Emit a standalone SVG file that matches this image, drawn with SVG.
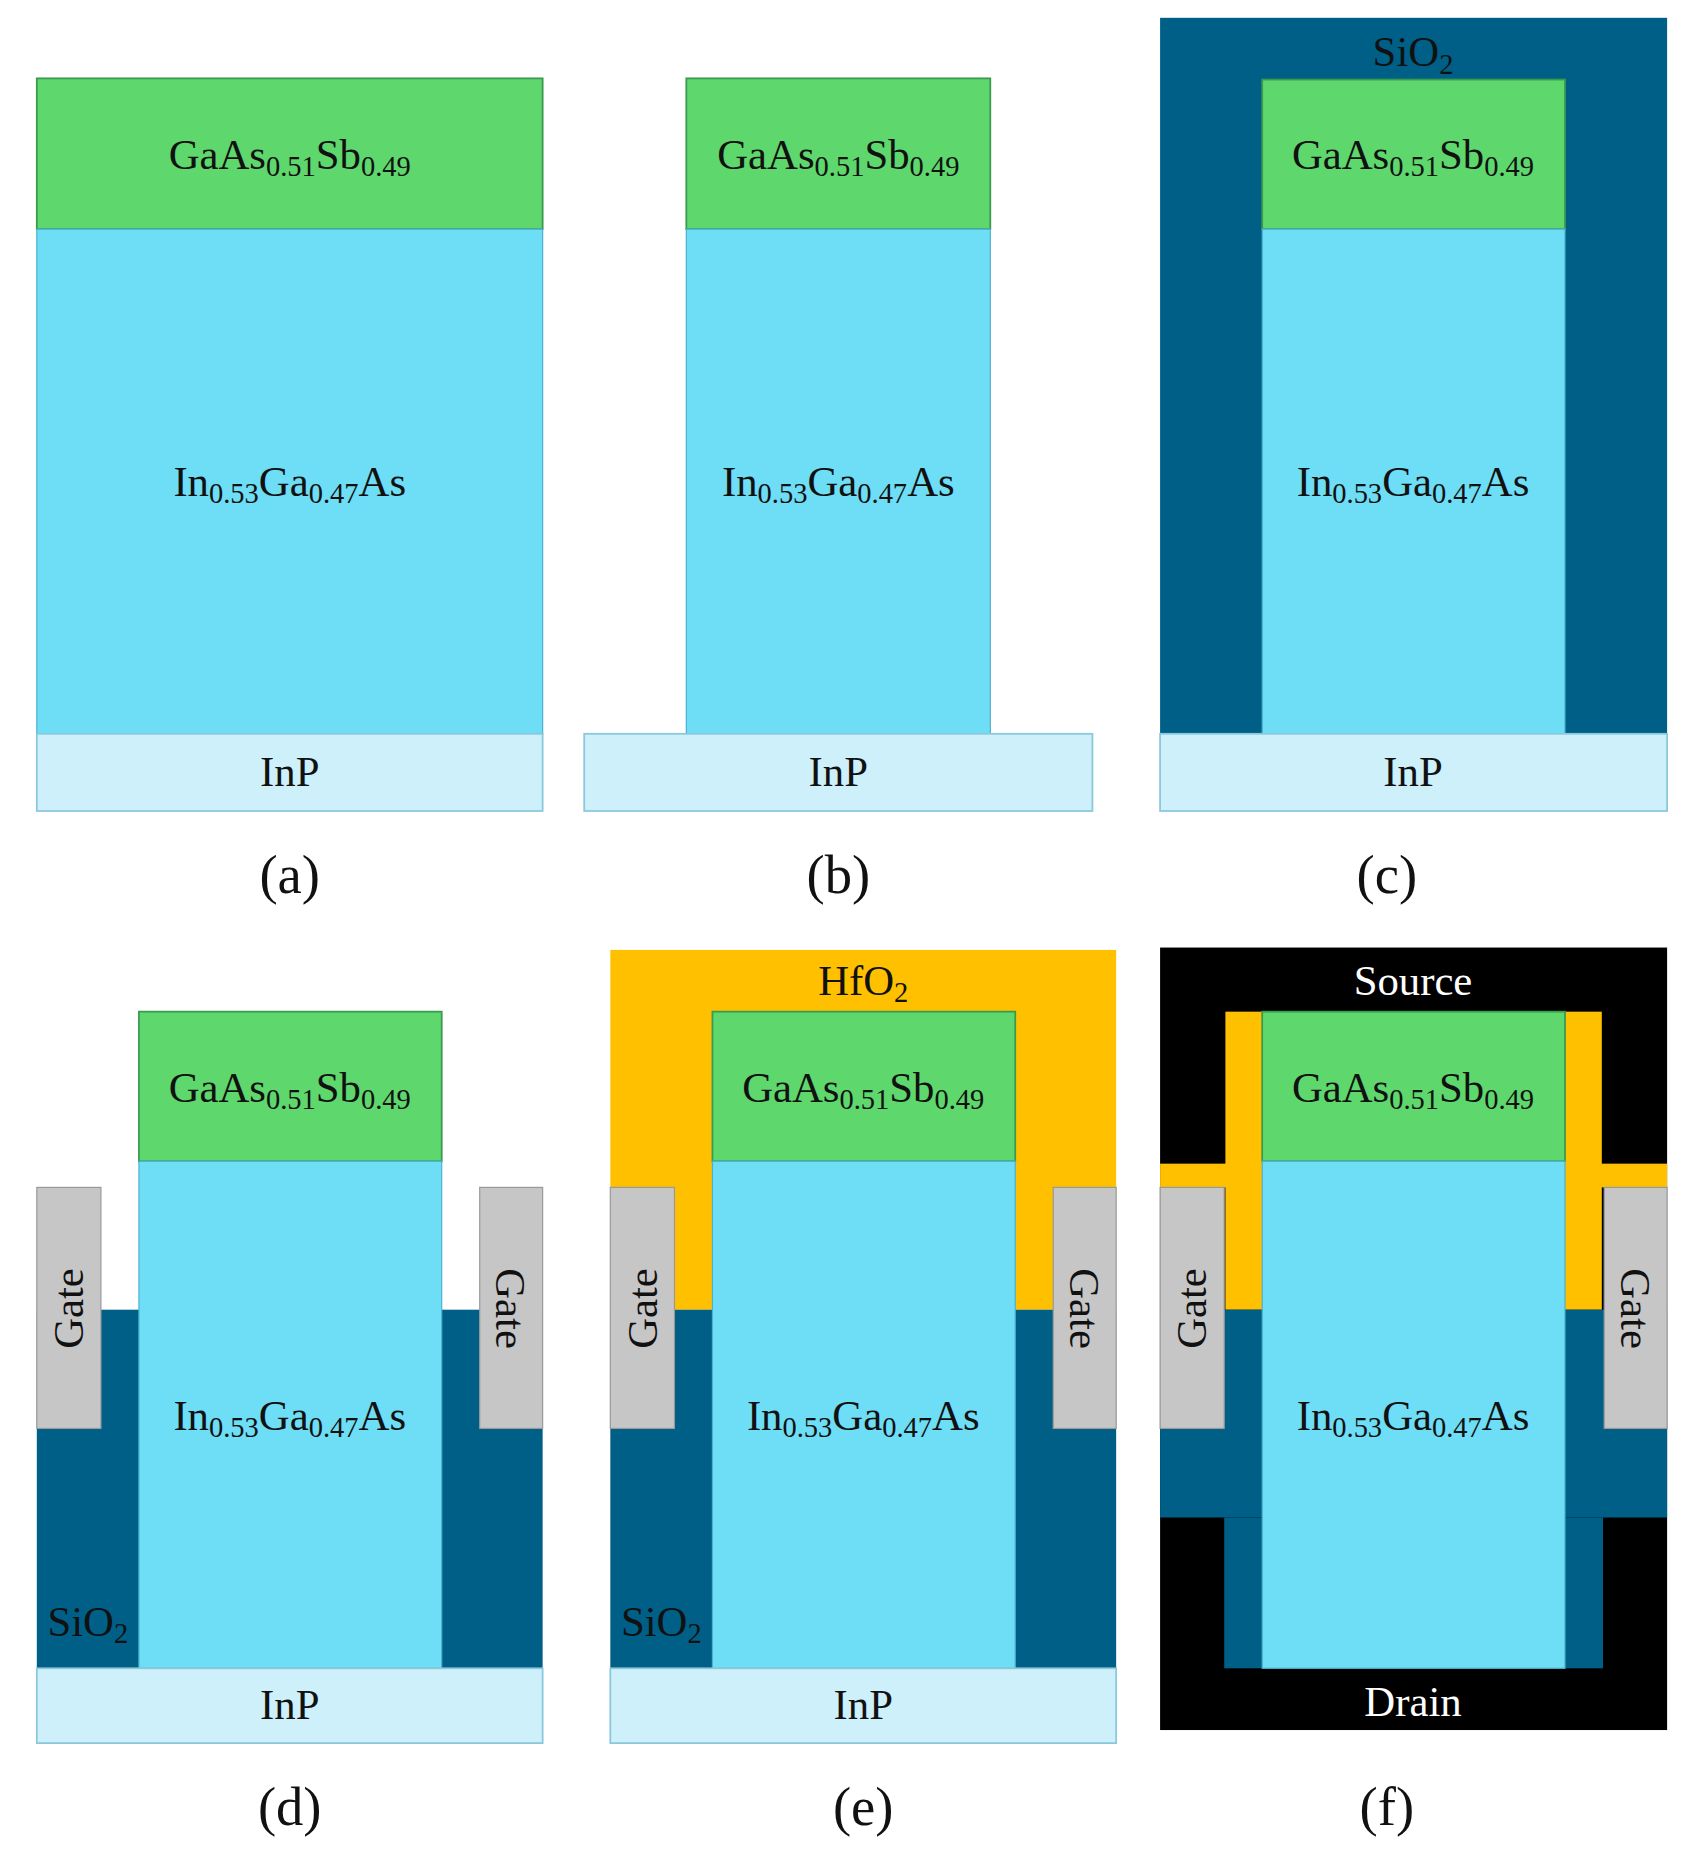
<svg xmlns="http://www.w3.org/2000/svg" width="1686" height="1858" viewBox="0 0 1686 1858">
<style>
.g{fill:#5ED76D;stroke:#3a9a50;stroke-width:1.5}
.b{fill:#6EDDF6;stroke:#4cb0d0;stroke-width:1}
.p{fill:#CDF0FB;stroke:#8cc8dc;stroke-width:1.5}
.s{fill:#005F87}
.h{fill:#FFC000}
.k{fill:#000}
.gt{fill:#C6C6C6;stroke:#999;stroke-width:1}
text{font-family:"Liberation Serif",serif;font-size:36px;fill:#111;text-anchor:middle}
.sub{font-size:24px}
.lab{font-size:46px}
.w{fill:#fff}
</style>
<rect width="1686" height="1858" fill="#fff"/>
<g transform="scale(1.1874)">
<g id="a">
<rect class="g" x="31" y="66" width="426" height="127"/>
<rect class="b" x="31" y="193" width="426" height="425"/>
<rect class="p" x="31" y="618" width="426" height="65"/>
<text x="244" y="142">GaAs<tspan class="sub" dy="6">0.51</tspan><tspan dy="-6">Sb</tspan><tspan class="sub" dy="6">0.49</tspan></text>
<text x="244" y="418">In<tspan class="sub" dy="6">0.53</tspan><tspan dy="-6">Ga</tspan><tspan class="sub" dy="6">0.47</tspan><tspan dy="-6">As</tspan></text>
<text x="244" y="662">InP</text>
<text class="lab" x="244" y="752">(a)</text>
</g>
<g id="b">
<rect class="g" x="578" y="66" width="256" height="127"/>
<rect class="b" x="578" y="193" width="256" height="425"/>
<rect class="p" x="492" y="618" width="428" height="65"/>
<text x="706" y="142">GaAs<tspan class="sub" dy="6">0.51</tspan><tspan dy="-6">Sb</tspan><tspan class="sub" dy="6">0.49</tspan></text>
<text x="706" y="418">In<tspan class="sub" dy="6">0.53</tspan><tspan dy="-6">Ga</tspan><tspan class="sub" dy="6">0.47</tspan><tspan dy="-6">As</tspan></text>
<text x="706" y="662">InP</text>
<text class="lab" x="706" y="752">(b)</text>
</g>
<g id="c">
<rect class="s" x="977" y="15" width="427" height="603"/>
<rect class="g" x="1063" y="67" width="255" height="126"/>
<rect class="b" x="1063" y="193" width="255" height="425"/>
<rect class="p" x="977" y="618" width="427" height="65"/>
<text x="1190" y="56">SiO<tspan class="sub" dy="6">2</tspan></text>
<text x="1190" y="142">GaAs<tspan class="sub" dy="6">0.51</tspan><tspan dy="-6">Sb</tspan><tspan class="sub" dy="6">0.49</tspan></text>
<text x="1190" y="418">In<tspan class="sub" dy="6">0.53</tspan><tspan dy="-6">Ga</tspan><tspan class="sub" dy="6">0.47</tspan><tspan dy="-6">As</tspan></text>
<text x="1190" y="662">InP</text>
<text class="lab" x="1168" y="752">(c)</text>
</g>
<g id="d">
<rect class="s" x="31" y="1103" width="426" height="302"/>
<rect class="gt" x="31" y="1000" width="54" height="203"/>
<rect class="gt" x="404" y="1000" width="53" height="203"/>
<rect class="g" x="117" y="852" width="255" height="126"/>
<rect class="b" x="117" y="978" width="255" height="427"/>
<rect class="p" x="31" y="1405" width="426" height="63"/>
<text x="244" y="928">GaAs<tspan class="sub" dy="6">0.51</tspan><tspan dy="-6">Sb</tspan><tspan class="sub" dy="6">0.49</tspan></text>
<text x="244" y="1204">In<tspan class="sub" dy="6">0.53</tspan><tspan dy="-6">Ga</tspan><tspan class="sub" dy="6">0.47</tspan><tspan dy="-6">As</tspan></text>
<text x="244" y="1448">InP</text>
<text x="74" y="1378">SiO<tspan class="sub" dy="6">2</tspan></text>
<text transform="translate(70,1102) rotate(-90)">Gate</text>
<text transform="translate(418,1102) rotate(90)">Gate</text>
<text class="lab" x="244" y="1537">(d)</text>
</g>
<g id="e">
<rect class="h" x="514" y="800" width="426" height="303"/>
<rect class="s" x="514" y="1103" width="426" height="302"/>
<rect class="gt" x="514" y="1000" width="54" height="203"/>
<rect class="gt" x="887" y="1000" width="53" height="203"/>
<rect class="g" x="600" y="852" width="255" height="126"/>
<rect class="b" x="600" y="978" width="255" height="427"/>
<rect class="p" x="514" y="1405" width="426" height="63"/>
<text x="727" y="838">HfO<tspan class="sub" dy="6">2</tspan></text>
<text x="727" y="928">GaAs<tspan class="sub" dy="6">0.51</tspan><tspan dy="-6">Sb</tspan><tspan class="sub" dy="6">0.49</tspan></text>
<text x="727" y="1204">In<tspan class="sub" dy="6">0.53</tspan><tspan dy="-6">Ga</tspan><tspan class="sub" dy="6">0.47</tspan><tspan dy="-6">As</tspan></text>
<text x="727" y="1448">InP</text>
<text x="557" y="1378">SiO<tspan class="sub" dy="6">2</tspan></text>
<text transform="translate(553,1102) rotate(-90)">Gate</text>
<text transform="translate(901,1102) rotate(90)">Gate</text>
<text class="lab" x="727" y="1537">(e)</text>
</g>
<g id="f">
<rect class="k" x="977" y="798" width="427" height="659"/>
<rect class="h" x="1032" y="852" width="317" height="251"/>
<rect class="h" x="977" y="980" width="427" height="20"/>
<rect class="s" x="977" y="1103" width="427" height="175"/>
<rect class="s" x="1031" y="1278" width="319" height="127"/>
<rect class="gt" x="977" y="1000" width="54" height="203"/>
<rect class="gt" x="1351" y="1000" width="53" height="203"/>
<rect class="g" x="1063" y="852" width="255" height="126"/>
<rect class="b" x="1063" y="978" width="255" height="427"/>
<text class="w" x="1190" y="838">Source</text>
<text class="w" x="1190" y="1445">Drain</text>
<text x="1190" y="928">GaAs<tspan class="sub" dy="6">0.51</tspan><tspan dy="-6">Sb</tspan><tspan class="sub" dy="6">0.49</tspan></text>
<text x="1190" y="1204">In<tspan class="sub" dy="6">0.53</tspan><tspan dy="-6">Ga</tspan><tspan class="sub" dy="6">0.47</tspan><tspan dy="-6">As</tspan></text>
<text transform="translate(1016,1102) rotate(-90)">Gate</text>
<text transform="translate(1365,1102) rotate(90)">Gate</text>
<text class="lab" x="1168" y="1537">(f)</text>
</g>
</g>
</svg>
